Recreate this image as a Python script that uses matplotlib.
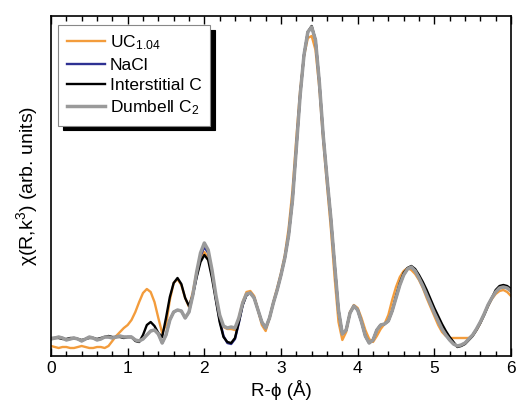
import matplotlib.pyplot as plt
from matplotlib.ticker import MultipleLocator

plt.rcParams["font.family"] = ["Liberation Sans", "DejaVu Sans"]
plt.rcParams["mathtext.fontset"] = "custom"
plt.rcParams["mathtext.rm"] = "Liberation Sans"
plt.rcParams["mathtext.it"] = "Liberation Sans"

# R grid (Angstrom), step 0.05
r = [i * 0.05 for i in range(121)]

# Fourier transform magnitude, arbitrary units
uc = [10, 9, 8, 9, 9, 8, 8, 9, 10, 9, 8, 8, 9, 9, 8, 10, 15, 20, 24, 28,
      31, 36, 44, 54, 63, 67, 64, 54, 38, 23, 31, 56, 73, 77, 71, 58, 49, 64, 84, 99,
      104, 98, 81, 59, 38, 29, 27, 27, 26, 38, 54, 64, 65, 60, 46, 31, 25, 38, 54, 68,
      83, 101, 128, 166, 218, 266, 300, 318, 320, 306, 268, 216, 171, 128, 78, 34, 16, 24, 44, 51,
      48, 38, 26, 17, 14, 20, 27, 32, 41, 56, 69, 79, 85, 88, 86, 82, 76, 68, 58, 49,
      40, 31, 24, 20, 18, 18, 18, 18, 18, 18, 21, 26, 33, 42, 50, 57, 62, 65, 66, 64,
      60]
nacl = [17, 18, 19, 18, 16, 17, 18, 17, 15, 17, 19, 18, 16, 17, 19, 19, 18, 19, 20, 19,
        19, 19, 16, 15, 17, 21, 25, 26, 22, 13, 21, 36, 44, 46, 45, 38, 44, 61, 80, 100,
        109, 103, 84, 58, 36, 20, 13, 12, 17, 33, 51, 61, 63, 58, 46, 34, 28, 38, 53, 66,
        81, 98, 121, 156, 208, 261, 301, 324, 329, 316, 274, 221, 178, 138, 91, 46, 22, 26, 43, 50,
        46, 34, 20, 13, 16, 26, 31, 32, 35, 45, 58, 71, 81, 87, 89, 85, 78, 70, 61, 52,
        43, 35, 27, 21, 16, 12, 10, 11, 13, 17, 21, 27, 34, 42, 51, 58, 64, 68, 69, 68,
        65]
interstitial = [18, 18, 18, 17, 17, 18, 18, 17, 16, 17, 18, 18, 17, 18, 19, 20, 19, 19, 19, 18,
                19, 19, 15, 14, 21, 31, 34, 30, 23, 19, 38, 59, 73, 78, 72, 58, 50, 61, 79, 94,
                101, 96, 78, 56, 34, 19, 14, 13, 18, 34, 51, 61, 63, 58, 46, 34, 28, 38, 53, 66,
                81, 98, 121, 156, 208, 261, 301, 324, 330, 316, 274, 221, 178, 138, 91, 46, 22, 26, 43, 50,
                46, 34, 20, 13, 16, 26, 31, 32, 35, 45, 60, 73, 83, 88, 90, 87, 81, 74, 66, 57,
                48, 40, 32, 25, 19, 14, 9, 10, 12, 16, 20, 26, 33, 41, 50, 58, 66, 70, 71, 70,
                67]
dumbell = [17, 18, 19, 18, 16, 17, 18, 17, 15, 17, 19, 18, 16, 17, 19, 19, 18, 19, 20, 19,
           19, 19, 16, 15, 17, 21, 25, 26, 22, 13, 21, 36, 44, 46, 45, 38, 44, 61, 84, 103,
           113, 106, 86, 61, 41, 30, 28, 29, 28, 38, 53, 62, 63, 58, 46, 34, 28, 38, 53, 66,
           81, 98, 121, 156, 208, 261, 301, 324, 329, 316, 274, 221, 178, 138, 91, 46, 22, 26, 43, 50,
           46, 34, 20, 13, 16, 26, 31, 32, 35, 45, 58, 71, 81, 87, 89, 85, 78, 70, 61, 52,
           43, 35, 27, 21, 16, 12, 10, 11, 13, 17, 21, 27, 34, 42, 51, 58, 64, 68, 69, 68,
           65]

fig = plt.figure(figsize=(5.16, 4.09), dpi=100)
ax = fig.add_axes([51 / 516, 53 / 409, 460 / 516, 340 / 409])

ax.plot(r, uc, color="#f39c3c", lw=1.7, label="UC$_{1.04}$")
ax.plot(r, nacl, color="#2e3192", lw=1.7, label="NaCl")
ax.plot(r, interstitial, color="black", lw=1.7, label="Interstitial C")
ax.plot(r, dumbell, color="#9a9a9a", lw=2.5, label="Dumbell C$_2$")

ax.set_xlim(0, 6)
ax.set_ylim(0, 340)
ax.xaxis.set_major_locator(MultipleLocator(1))
ax.xaxis.set_minor_locator(MultipleLocator(0.2))
ax.tick_params(axis="x", which="both", direction="in", top=True, labelsize=12.5)
ax.tick_params(axis="x", which="major", length=6, width=1)
ax.tick_params(axis="x", which="minor", length=3.5, width=1)
ax.set_yticks([])
for s in ax.spines.values():
    s.set_linewidth(1.2)

ax.set_xlabel("R-\u03d5 (Å)", fontsize=13.5, labelpad=3)
ax.set_ylabel("\u03c7(R,k$^3$) (arb. units)", fontsize=14, labelpad=8)

leg = ax.legend(loc="upper left", bbox_to_anchor=(0.015, 0.974), borderaxespad=0,
                fontsize=12.5, handlelength=2.2, handletextpad=0.3, labelspacing=0.3,
                borderpad=0.5, fancybox=False, edgecolor="#888888", framealpha=1,
                shadow={"color": "black", "alpha": 1, "ox": 3.5, "oy": -3.5})
leg.get_frame().set_linewidth(0.8)

plt.savefig("out.png", dpi=100)
